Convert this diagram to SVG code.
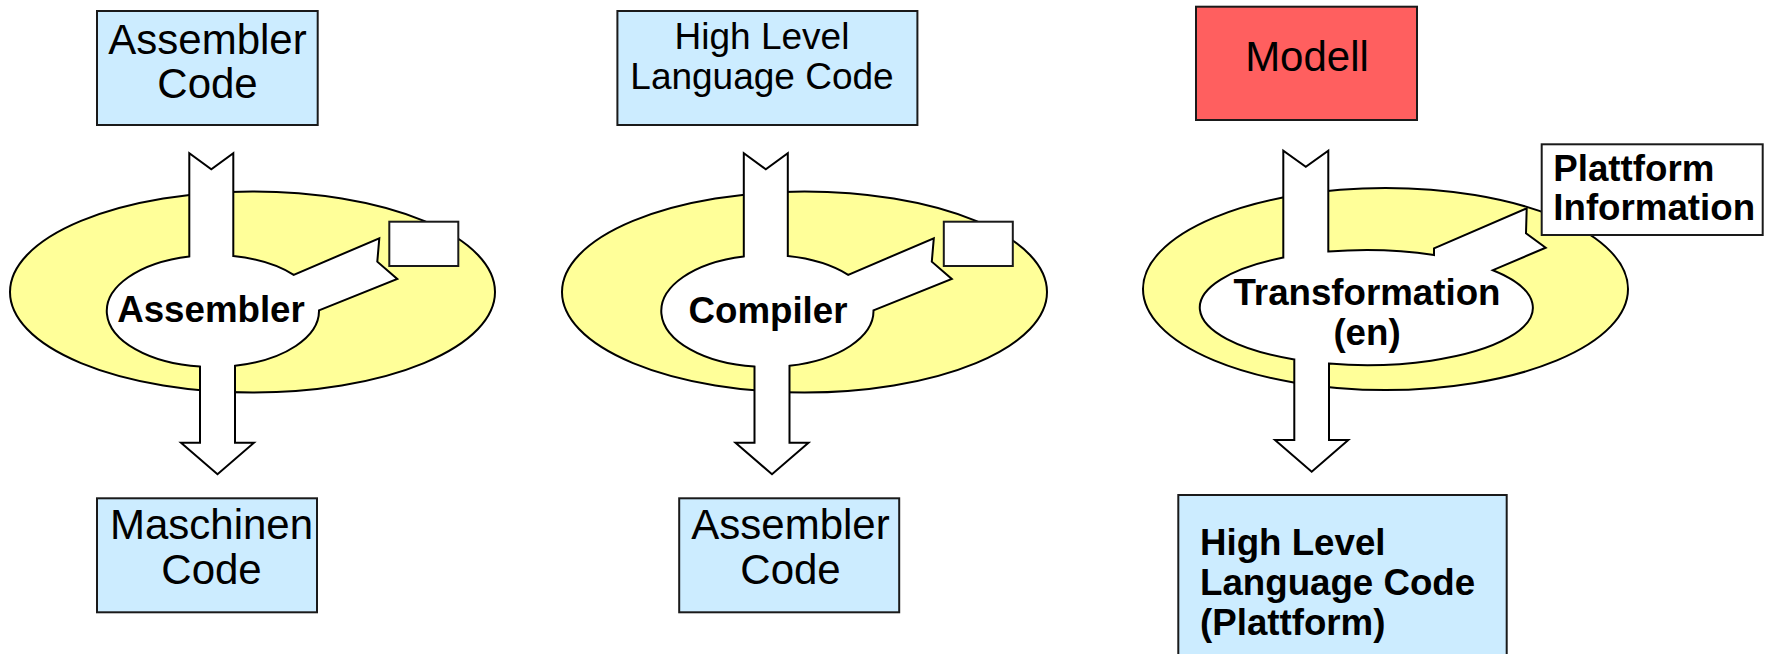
<svg xmlns="http://www.w3.org/2000/svg" width="1767" height="654" viewBox="0 0 1767 654">
  <style>
    .box { stroke: #1a1a1a; stroke-width: 2; }
    .code { fill: #CCECFF; }
    .model { fill: #FF5F5F; }
    .plain { fill: #FFFFFF; }
    .ring { fill: #FFFF99; stroke: #000; stroke-width: 2; }
    .flow { fill: #FFFFFF; stroke: #000; stroke-width: 2; stroke-linejoin: miter; }
    text { font-family: "Liberation Sans", Arial, Helvetica, sans-serif; fill: #000; }
    .lg { font-size: 42px; text-anchor: middle; }
    .md { font-size: 37px; text-anchor: middle; }
    .bold { font-size: 36.7px; font-weight: bold; }
    .mid { text-anchor: middle; }
  </style>

  <!-- translator rings (yellow) -->
  <g id="ring-assembler">
    <ellipse class="ring" cx="252.5" cy="292" rx="242.5" ry="100.5"/>
  </g>
  <g id="ring-compiler">
    <ellipse class="ring" cx="804.5" cy="292" rx="242.5" ry="100.5"/>
  </g>
  <g id="ring-transformation">
    <ellipse class="ring" cx="1385.5" cy="289" rx="242.5" ry="101"/>
  </g>

  <!-- block arrows merged with the inner process ellipse -->
  <g id="connectors">
    <path id="flow-assembler" class="flow" d="M 189.3 256.4 L 189.3 153.3 L 211.3 169.3 L 233.3 153.3 L 233.3 256.0 A 106 56 0 0 1 293.7 274.8 L 379.3 238.3 L 377.3 261.7 L 397.3 279 L 319 310.3 A 106 56 0 0 1 235 365.8 L 235 442.7 L 254 442.7 L 217.5 474.3 L 181 442.7 L 200 442.7 L 200 366.6 A 106 56 0 0 1 189.3 256.4 Z"/>
    <path id="flow-compiler" class="flow" transform="translate(554.5,0)" d="M 189.3 256.4 L 189.3 153.3 L 211.3 169.3 L 233.3 153.3 L 233.3 256.0 A 106 56 0 0 1 293.7 274.8 L 379.3 238.3 L 377.3 261.7 L 397.3 279 L 319 310.3 A 106 56 0 0 1 235 365.8 L 235 442.7 L 254 442.7 L 217.5 474.3 L 181 442.7 L 200 442.7 L 200 366.6 A 106 56 0 0 1 189.3 256.4 Z"/>
    <path id="flow-transformation" class="flow" d="M 1283.3 257.6 L 1283.3 150.7 L 1305.8 166.7 L 1328.3 150.7 L 1328.3 251.5 A 166 57.5 0 0 1 1434 255.0 L 1434 248.3 L 1526.7 208.3 L 1526 233.3 L 1545.7 247.7 L 1492.9 270.2 A 166 57.5 0 0 1 1329 363.6 L 1329 440 L 1348.3 440 L 1311.7 471.7 L 1275 440 L 1294.3 440 L 1294.3 359.4 A 166 57.5 0 0 1 1283.3 257.6 Z"/>
  </g>

  <!-- process labels -->
  <g id="proc-assembler">
    <text class="bold mid" x="211" y="321.7">Assembler</text>
  </g>
  <g id="proc-compiler">
    <text class="bold mid" x="768" y="323.3">Compiler</text>
  </g>
  <g id="proc-transformation">
    <text class="bold mid" x="1367" y="305">Transformation</text>
    <text class="bold mid" x="1367" y="345">(en)</text>
  </g>

  <!-- side inputs -->
  <g id="side-input-assembler">
    <rect class="box plain" x="389.3" y="221.7" width="69" height="44.3"/>
  </g>
  <g id="side-input-compiler">
    <rect class="box plain" x="943.8" y="221.7" width="69" height="44.3"/>
  </g>
  <g id="platform-information">
    <rect class="box plain" x="1541.7" y="144.3" width="221" height="90.7"/>
    <text class="bold" x="1553.3" y="181">Plattform</text>
    <text class="bold" x="1553.3" y="220">Information</text>
  </g>

  <!-- sources -->
  <g id="src-assembler-code">
    <rect class="box code" x="97" y="11" width="220.7" height="114"/>
    <text class="lg" x="207.5" y="53.5">Assembler</text>
    <text class="lg" x="207.5" y="97.5">Code</text>
  </g>
  <g id="src-high-level">
    <rect class="box code" x="617.4" y="11" width="300" height="114"/>
    <text class="md" x="762" y="48.5">High Level</text>
    <text class="md" x="762" y="89">Language Code</text>
  </g>
  <g id="src-modell">
    <rect class="box model" x="1196" y="6.7" width="221" height="113.3"/>
    <text class="lg" x="1307" y="70.7">Modell</text>
  </g>

  <!-- targets -->
  <g id="dst-maschinen-code">
    <rect class="box code" x="97" y="498.3" width="220" height="114"/>
    <text class="lg" x="211.5" y="538.5">Maschinen</text>
    <text class="lg" x="211.5" y="583.5">Code</text>
  </g>
  <g id="dst-assembler-code">
    <rect class="box code" x="679.2" y="498.3" width="220" height="114"/>
    <text class="lg" x="790.5" y="538.5">Assembler</text>
    <text class="lg" x="790.5" y="583.5">Code</text>
  </g>
  <g id="dst-platform-code">
    <rect class="box code" x="1178.3" y="495" width="328.4" height="170"/>
    <text class="bold" x="1200" y="555">High Level</text>
    <text class="bold" x="1200" y="595">Language Code</text>
    <text class="bold" x="1200" y="635">(Plattform)</text>
  </g>
</svg>
